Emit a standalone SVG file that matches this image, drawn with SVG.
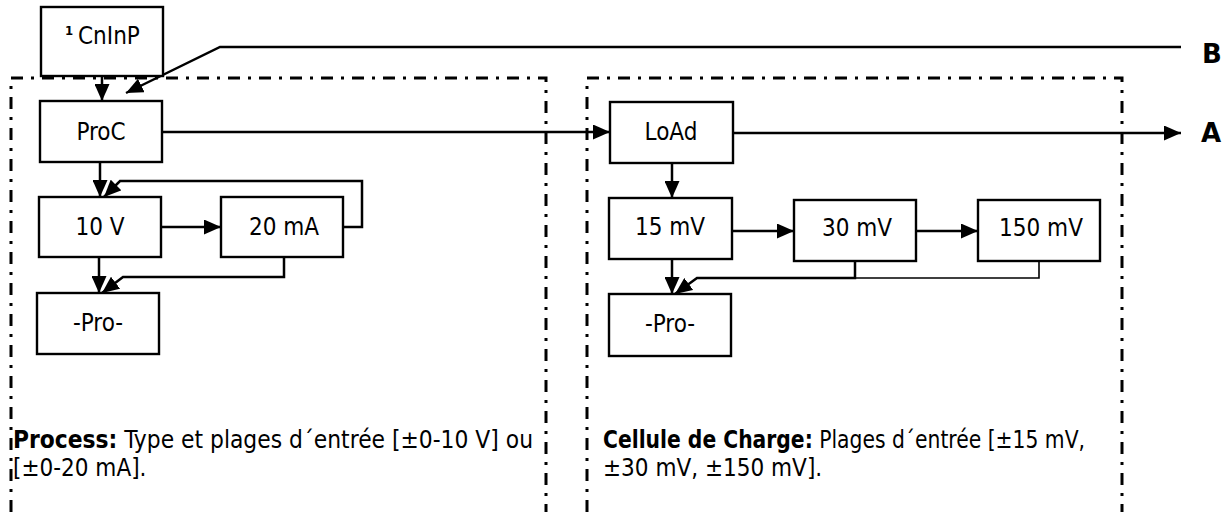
<svg xmlns="http://www.w3.org/2000/svg" width="1225" height="512" viewBox="0 0 1225 512">
<style>
.box{fill:#fff;stroke:#000;stroke-width:2.4}
.lbl{font-family:"DejaVu Sans Condensed","DejaVu Sans",sans-serif;font-size:24px;fill:#000;text-anchor:middle}
.txt{font-family:"DejaVu Sans Condensed","DejaVu Sans",sans-serif;font-size:24px;fill:#000}
.panel{fill:none;stroke:#000;stroke-width:3;stroke-dasharray:12 8 3 8}
.c{fill:none;stroke:#000;stroke-width:2.5}
.big{font-family:"DejaVu Sans",sans-serif;font-size:26px;font-weight:bold;fill:#000}
</style>
<defs>
<marker id="ah" viewBox="0 0 17 15" refX="17" refY="7.5" markerWidth="17" markerHeight="15" markerUnits="userSpaceOnUse" orient="auto">
<path d="M0,0 L17,7.5 L0,15 z" fill="#000"/>
</marker>
</defs>
<rect width="1225" height="512" fill="#fff"/>
<g id="panels">
<path class="panel" d="M11,512 V78 H546 V512"/>
<path class="panel" d="M587,512 V78 H1122 V512"/>
</g>
<g id="connectors">
<path class="c" d="M102,76 V101" marker-end="url(#ah)"/>
<path class="c" d="M1181,47 H220 L126,93" marker-end="url(#ah)"/>
<path class="c" d="M162,132 H610" marker-end="url(#ah)"/>
<path class="c" d="M733,133 H1181" marker-end="url(#ah)"/>
<path class="c" d="M100,162 V197" marker-end="url(#ah)"/>
<path class="c" d="M161,227 H221" marker-end="url(#ah)"/>
<path class="c" d="M343,227 H362 V181 H120 L104,197" marker-end="url(#ah)"/>
<path class="c" d="M99,257 V293" marker-end="url(#ah)"/>
<path class="c" d="M284,257 V277 H123 L102,293" marker-end="url(#ah)"/>
<path class="c" d="M672,163 V198" marker-end="url(#ah)"/>
<path class="c" d="M732,231 H794" marker-end="url(#ah)"/>
<path class="c" d="M916,231 H978" marker-end="url(#ah)"/>
<path class="c" d="M672,259 V294" marker-end="url(#ah)"/>
<path class="c" d="M855,261 V278 H697 L675,294" marker-end="url(#ah)"/>
<path fill="none" stroke="#000" stroke-width="1.6" d="M1039,261 V278 H855"/>
</g>
<g id="CnInP">
<rect class="box" x="41" y="7" width="122" height="69"/>
<text class="txt" x="65" y="35" style="font-size:13px;font-weight:bold">1</text>
<text class="txt" x="78" y="44">CnInP</text>
</g>
<g id="ProC"><rect class="box" x="40" y="101" width="122" height="61"/><text class="lbl" x="101" y="140">ProC</text></g>
<g id="LoAd"><rect class="box" x="610" y="102" width="123" height="61"/><text class="lbl" x="671" y="140">LoAd</text></g>
<g id="v10"><rect class="box" x="39" y="197" width="122" height="60"/><text class="lbl" x="100" y="235">10 V</text></g>
<g id="ma20"><rect class="box" x="221" y="197" width="122" height="60"/><text class="lbl" x="284" y="235">20 mA</text></g>
<g id="pro1"><rect class="box" x="37" y="293" width="122" height="61"/><text class="lbl" x="98" y="331">-Pro-</text></g>
<g id="mv15"><rect class="box" x="609" y="198" width="123" height="61"/><text class="lbl" x="670" y="235">15 mV</text></g>
<g id="mv30"><rect class="box" x="794" y="200" width="122" height="61"/><text class="lbl" x="857" y="236">30 mV</text></g>
<g id="mv150"><rect class="box" x="978" y="200" width="122" height="61"/><text class="lbl" x="1041" y="236">150 mV</text></g>
<g id="pro2"><rect class="box" x="609" y="294" width="122" height="62"/><text class="lbl" x="670" y="332">-Pro-</text></g>
<g id="labels">
<text class="big" x="1202" y="63">B</text>
<text class="big" x="1201" y="142">A</text>
<text class="txt" x="13" y="448" textLength="520" lengthAdjust="spacingAndGlyphs"><tspan font-weight="bold">Process:</tspan> Type et plages d´entrée [±0-10 V] ou</text>
<text class="txt" x="13" y="476">[±0-20 mA].</text>
<text class="txt" x="603" y="448" textLength="482" lengthAdjust="spacingAndGlyphs"><tspan font-weight="bold">Cellule de Charge:</tspan> Plages d´entrée [±15 mV,</text>
<text class="txt" x="603" y="476">±30 mV, ±150 mV].</text>
</g>
</svg>
